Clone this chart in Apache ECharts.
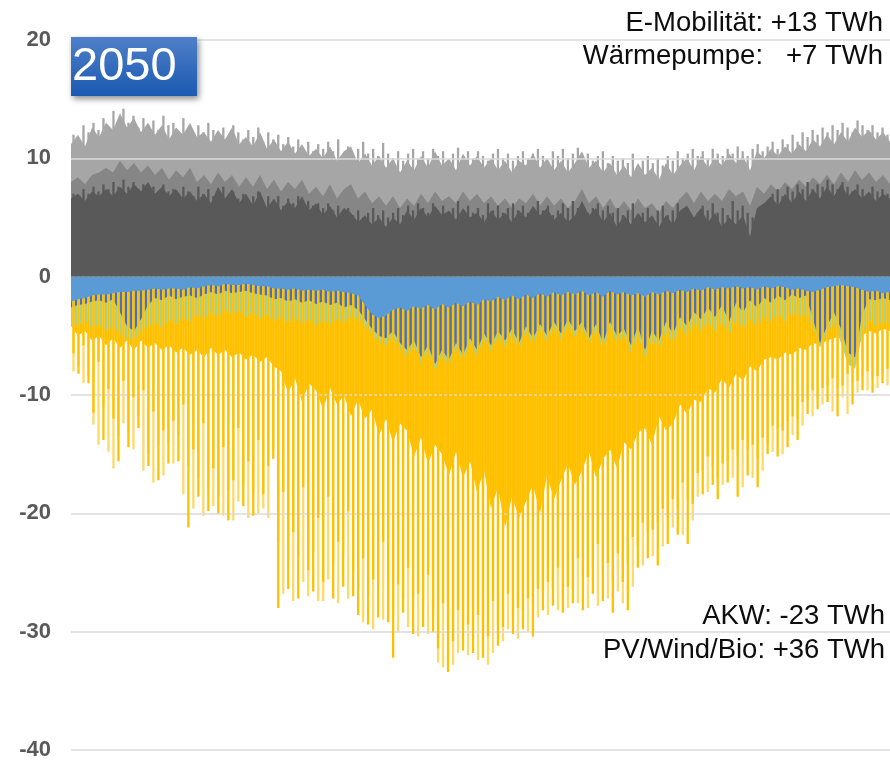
<!DOCTYPE html>
<html><head><meta charset="utf-8">
<script src="https://cdn.jsdelivr.net/npm/echarts@6/dist/echarts.min.js"></script>
<style>html,body{margin:0;padding:0;background:#fff}#c{width:890px;height:761px}</style>
</head><body><div id="c"></div>
<script>
// y-axis ticks
const yTicks = [-40, -30, -20, -10, 0, 10, 20];

// positive side: consumption layers (tops), sampled across the year
const grayLightTop = [11.2,12.0,11.0,12.6,11.8, 13.0,12.4,13.8,12.6,13.4, 12.2,13.0,12.0,12.8,11.6, 12.6,12.0,13.0,11.8,12.2, 11.4,12.4,11.6,12.6,11.2, 11.8,11.0,12.2,10.8,11.6, 10.6,11.4,10.4,11.2,10.2, 10.8,10.0,11.0,9.8,10.6, 11.0,9.6,10.4,9.4,10.2, 9.2,10.0,8.8,9.8,9.0, 10.2,9.2,10.6,9.4,10.0, 9.0,10.4,9.4,10.2,9.2, 10.0,9.0,9.8,8.8,9.8, 9.4,10.4,9.2,10.0,9.0, 9.8,8.8,9.6,10.6,9.2, 9.8,8.8,9.6,8.6,9.4, 8.4,9.6,8.6,9.2,8.2, 9.6,8.6,9.4,10.0,9.0, 10.2,9.2,10.0,9.4,10.4, 9.6,10.2,9.0,10.6,10.0, 10.8,10.2,11.0,10.4,11.2, 10.6,11.6,11.0,12.0,11.2, 12.2,11.4,12.6,11.8,12.4, 11.6,12.2,11.4];
const grayMidTop = [8.0,8.4,7.8,8.6,8.8, 9.2,8.8,9.8,9.0,9.6, 8.8,9.4,8.6,9.2,8.2, 9.0,8.4,9.2,8.0,8.6, 7.8,8.8,8.0,8.6,7.6, 8.4,7.6,8.6,7.4,8.2, 7.2,8.0,7.4,8.2,7.0, 7.6,6.8,7.8,6.6,7.4, 7.8,6.6,7.2,6.2,6.8, 6.0,6.8,5.8,6.6,6.0, 7.0,6.2,7.2,6.4,6.8, 6.2,7.2,6.4,7.0,6.2, 6.8,6.0,6.6,5.8,6.6, 6.2,7.0,6.0,6.8,6.0, 6.6,5.8,6.4,7.4,6.2, 6.8,5.8,6.6,5.6,6.4, 5.6,6.6,5.8,6.2,5.4, 6.4,5.8,6.6,7.2,6.2, 7.2,6.4,7.0,6.4,7.4, 6.8,7.2,6.0,7.6,7.0, 7.8,7.2,8.0,7.4,8.2, 7.6,8.4,7.8,8.6,7.8, 8.8,8.0,9.0,8.2,8.8, 8.0,8.6,7.8];
const grayDarkTop = [6.6,7.0,6.4,7.2,6.8, 7.4,6.8,7.6,7.0,7.8, 7.2,8.0,7.0,7.6,6.8, 7.4,6.6,7.2,6.4,7.0, 6.2,7.6,6.6,7.4,6.2, 7.0,6.0,7.2,5.8,6.6, 5.6,6.4,5.8,6.8,5.6, 6.2,5.2,6.0,5.0,5.8, 5.4,4.6,5.2,4.4,5.0, 4.2,5.0,4.4,5.6,4.8, 5.8,5.0,6.0,5.2,5.6, 4.8,5.8,5.0,5.4,4.6, 5.6,4.8,5.4,4.6,5.6, 5.0,6.0,5.2,5.8,4.8, 5.4,4.6,5.2,6.4,5.2, 5.8,4.6,5.4,4.2,5.2, 4.4,5.4,4.6,5.2,4.2, 5.2,4.4,5.6,6.0,5.0, 5.8,4.6,5.4,4.2,5.0, 4.4,5.2,3.4,5.8,6.2, 6.8,6.0,7.0,6.2,7.2, 6.4,7.4,6.6,7.6,6.8, 7.8,6.8,7.4,6.6,7.2, 6.4,7.0,6.6];
// daily load peaks (light gray needles) and base-load needles (dark gray)
const grayPeak = [12.0,11.4,12.8,12.2,13.0,12.4,13.4,12.6,14.0,13.2, 14.2,13.0,13.6,12.6,13.4,12.8,13.2,12.4,13.6,12.8, 13.0,12.2,13.4,12.6,12.0,12.8,12.2,13.0,12.4,12.0, 12.6,11.8,12.8,12.2,11.6,12.4,11.8,12.6,11.4,12.2, 11.6,12.0,11.2,11.8,11.0,11.6,10.8,11.4,10.6,11.2, 10.8,11.4,10.6,11.6,10.4,11.0,10.2,10.8,11.4,10.4, 10.8,10.2,11.3,10.4,10.0,10.6,9.8,10.4,10.8,10.0, 10.6,10.0,10.8,10.2,10.6,9.8,10.4,10.9,10.2,10.6, 10.0,10.6,10.2,9.8,10.4,10.8,10.0,10.4,9.8,10.2, 10.6,10.0,10.4,10.8,10.2,9.8,10.6,10.2,10.8,10.0, 10.4,10.9,10.0,10.4,9.8,10.2,10.6,9.6,10.2,9.8, 10.0,9.6,10.4,9.4,9.8,10.2,9.6,10.0,9.4,10.2, 9.8,10.6,10.0,10.4,10.8,10.2,10.6,10.0,10.8,10.4, 10.2,10.8,10.4,11.0,10.6,10.2,10.8,11.2,10.6,11.0, 11.4,10.8,11.6,11.2,12.0,11.4,12.2,11.8,12.4,12.0, 12.6,12.2,12.8,12.4,13.0,12.6,12.2,13.2,12.8,12.4, 12.8,12.2,12.6,12.0];
const darkPeak = [7.0,6.6,7.4,7.0,7.6,7.2,7.8,7.4,8.0,7.6, 8.2,7.6,8.0,7.4,7.8,7.2,7.6,7.0,7.8,7.2, 7.4,7.0,7.6,7.2,6.8,7.6,7.0,7.4,6.8,7.2, 7.6,6.8,7.2,6.6,7.0,6.4,6.8,7.2,6.2,6.8, 6.4,6.8,6.0,6.6,6.2,6.8,5.8,6.4,6.0,6.2, 5.8,6.2,5.6,6.0,5.4,5.8,5.2,5.6,5.0,5.4, 5.8,5.2,5.6,5.0,5.4,5.8,5.2,6.0,5.6,6.2, 5.8,5.4,6.2,5.6,6.0,5.4,5.8,6.4,5.6,6.0, 5.4,5.8,5.2,6.2,5.6,6.0,5.4,5.8,6.2,5.6, 6.0,5.4,5.8,6.4,5.6,6.0,5.2,5.6,6.2,5.8, 6.4,5.8,6.0,5.4,5.8,6.2,5.6,6.0,5.4,5.8, 5.2,5.6,6.2,5.0,5.4,5.8,5.0,5.6,6.0,5.2, 5.6,6.2,5.4,5.8,5.0,5.4,6.0,5.6,6.2,5.4, 5.8,5.2,6.4,5.6,6.0,5.4,5.0,4.8,5.6,6.4, 7.0,7.4,6.8,7.6,7.2,7.8,7.4,8.0,7.4,7.8, 7.6,8.2,7.8,7.4,8.0,7.6,7.2,7.8,7.4,7.0, 7.6,7.2,7.4,7.0];

// negative side: generation layers (cumulative bottoms)
const blueLightBottom = [-2.1,-1.9,-1.8,-1.6,-1.5, -1.5,-1.4,-1.3,-1.3,-1.2, -1.2,-1.1,-1.0,-1.1,-1.0, -1.0,-1.1,-0.9,-1.0,-0.8, -0.7,-0.8,-0.6,-0.7,-0.7, -0.6,-0.7,-0.8,-0.8,-1.0, -1.0,-1.1,-1.0,-1.2,-1.1, -1.2,-1.1,-1.3,-1.2,-1.3, -1.4,-1.6,-2.4,-3.2,-3.5, -3.3,-2.8,-2.6,-2.9,-2.5, -2.7,-2.4,-2.8,-2.3,-2.6, -2.2,-2.5,-2.1,-2.4,-1.9, -2.1,-1.7,-2.0,-1.6,-1.9, -1.5,-1.8,-1.4,-1.7,-1.3, -1.6,-1.3,-1.5,-1.2,-1.6, -1.3,-1.7,-1.2,-1.5,-1.3, -1.6,-1.4,-1.7,-1.3,-1.5, -1.2,-1.4,-1.1,-1.3,-1.0, -1.2,-0.9,-1.1,-0.9,-1.0, -0.8,-1.0,-0.9,-1.1,-0.8, -1.0,-0.8,-0.9,-1.1,-1.0, -1.2,-1.3,-1.1,-0.9,-0.8, -0.7,-0.8,-0.9,-1.1,-1.3, -1.2,-1.4,-1.3];
const blueDarkBottom = [-2.6,-2.4,-2.3,-2.1,-2.0, -2.2,-1.9,-3.0,-4.2,-4.6, -3.6,-2.4,-1.8,-2.0,-1.6, -1.9,-1.7,-1.6,-1.8,-1.5, -1.3,-1.5,-1.2,-1.4,-1.3, -1.2,-1.4,-1.5,-1.6,-1.9, -1.8,-2.1,-1.9,-2.2,-2.0, -2.3,-2.1,-2.4,-2.2,-2.6, -2.4,-2.8,-3.6,-4.4,-5.0, -5.2,-4.6,-5.6,-6.2,-5.4, -6.8,-5.8,-7.4,-6.2,-7.0, -5.6,-6.6,-5.2,-6.2,-4.8, -5.8,-4.6,-5.4,-4.4,-5.6, -4.2,-5.2,-4.0,-5.0,-3.8, -4.8,-3.6,-4.6,-3.8,-5.2, -4.0,-5.6,-3.8,-5.0,-4.4, -5.8,-4.2,-6.2,-4.6,-5.4, -3.8,-4.8,-3.4,-4.2,-3.0, -3.6,-2.6,-3.4,-2.4,-3.8, -2.2,-3.0,-2.0,-2.6,-1.8, -2.2,-1.6,-2.0,-1.5,-1.8, -1.6,-3.6,-5.6,-4.2,-3.0, -4.4,-6.4,-6.8,-3.2,-1.9, -2.0,-1.8,-2.0];
const greenBottom = [-3.8,-4.2,-3.6,-4.4,-4.0, -4.6,-4.2,-4.8,-5.2,-5.4, -4.6,-4.2,-3.8,-4.4,-3.6, -4.0,-3.4,-3.8,-3.2,-3.6, -3.0,-3.4,-2.8,-3.2,-2.9, -3.4,-3.0,-3.6,-3.2,-3.8, -3.4,-3.9,-3.5,-4.0,-3.6, -4.1,-3.7,-4.0,-3.6,-3.9, -3.4,-3.6,-4.2,-4.9,-5.5, -5.8,-5.1,-6.1,-6.7,-5.9, -7.3,-6.3,-7.9,-6.7,-7.5, -6.1,-7.1,-5.7,-6.7,-5.3, -6.3,-5.1,-5.9,-4.9,-6.1, -4.7,-5.7,-4.5,-5.5,-4.3, -5.3,-4.1,-5.1,-4.3,-5.7, -4.6,-6.1,-4.4,-5.6,-5.0, -6.4,-4.9,-6.8,-5.3,-6.1, -4.6,-5.6,-4.3,-5.0,-4.0, -4.6,-3.8,-4.6,-3.8,-5.0, -3.6,-4.4,-3.6,-4.2,-3.4, -3.8,-3.2,-3.8,-3.0,-3.4, -3.2,-4.2,-6.0,-4.8,-4.0, -5.6,-7.4,-7.8,-5.0,-3.6, -4.2,-3.8,-4.0];
const pvCore = [-4.2,-5.0,-4.6,-5.4,-5.0, -5.8,-5.2,-6.0,-5.4,-6.2, -5.4,-6.0,-5.6,-6.2,-5.8, -6.4,-6.0,-6.6,-6.2,-6.8, -6.0,-6.6,-6.2,-6.8,-6.4, -7.0,-6.6,-7.2,-6.8,-7.6, -8.0,-9.8,-8.6,-10.6,-9.0, -9.6,-11.2,-9.4,-10.8,-10.0, -11.8,-10.4,-12.0,-11.2,-13.4, -12.0,-14.0,-12.4,-13.0,-15.2, -13.6,-15.8,-14.2,-15.0,-16.8, -14.8,-17.0,-15.6,-18.2,-16.4, -19.6,-17.8,-21.2,-18.6,-20.4, -19.0,-17.6,-20.0,-16.8,-18.8, -17.2,-15.8,-17.6,-16.4,-14.8, -17.0,-15.4,-14.6,-16.2,-14.0, -14.6,-13.2,-12.8,-14.2,-11.8, -13.0,-12.4,-10.8,-11.6,-10.4, -10.6,-9.4,-9.8,-8.6,-9.4, -8.2,-8.8,-7.6,-8.0,-7.0, -6.8,-7.0,-6.4,-6.6,-6.0, -6.2,-5.6,-5.8,-5.4,-5.2, -5.0,-5.4,-4.8,-5.0,-4.6, -4.8,-4.4,-4.6];

// daily PV peaks (deep = gold, pale = lighter tone)
const pvGold = [-6.5,-8.2,-5.8,-9.0,-11.5,-7.2,-13.8,-9.5,-12.0,-15.6, -8.8,-14.4,-10.2,-12.8,-9.6,-16.0,-11.4,-17.2,-13.0,-15.8, -12.2,-15.6,-10.8,-21.2,-14.6,-18.6,-12.4,-19.8,-16.2,-20.0, -14.4,-20.6,-17.2,-12.8,-19.4,-15.6,-20.2,-13.8,-18.4,-16.0, -15.4,-28.0,-18.2,-26.4,-21.6,-27.2,-17.8,-24.8,-26.6,-20.4, -25.8,-18.6,-27.2,-22.4,-26.2,-19.8,-27.0,-28.6,-23.8,-29.4, -25.6,-28.8,-22.4,-29.2,-32.2,-26.0,-28.4,-24.6,-30.2,-26.8, -29.6,-25.2,-30.0,-31.4,-27.6,-33.4,-30.8,-28.2,-31.6,-29.4, -31.8,-28.6,-32.2,-30.4,-27.4,-31.2,-29.6,-26.8,-30.2,-28.0, -29.8,-27.2,-30.4,-26.4,-28.2,-25.8,-27.8,-24.6,-28.4,-26.2, -27.6,-23.8,-28.2,-25.4,-26.8,-22.6,-27.4,-24.2,-28.4,-23.4, -25.8,-28.2,-22.0,-24.6,-20.8,-23.8,-21.4,-24.4,-19.6,-22.6, -18.8,-21.8,-17.4,-22.6,-19.2,-16.6,-18.4,-15.2,-17.6,-18.8, -15.8,-17.4,-14.6,-18.6,-13.8,-16.8,-14.2,-17.8,-13.6,-15.0, -12.6,-15.2,-13.0,-14.4,-11.8,-13.8,-10.6,-11.6,-9.6,-11.2, -9.4,-10.6,-8.6,-11.8,-9.2,-8.2,-10.8,-8.8,-9.6,-8.0, -9.8,-8.4,-9.0,-7.8];
const pvPale = [-8.0,-7.5,-9.0,-8.4,-12.5,-14.2,-11.0,-14.8,-16.2,-13.5, -12.4,-13.2,-14.6,-11.8,-16.4,-15.0,-17.4,-14.2,-16.8,-14.0, -15.8,-13.4,-18.4,-16.0,-19.6,-17.0,-20.2,-17.8,-19.4,-18.6, -20.2,-18.0,-20.6,-19.0,-17.6,-20.4,-18.2,-20.0,-19.6,-20.4, -14.6,-22.4,-26.8,-24.0,-27.4,-23.6,-25.8,-27.0,-23.2,-27.4, -27.4,-25.6,-24.2,-27.6,-23.4,-27.2,-25.0,-26.4,-29.2,-27.0, -29.8,-26.2,-29.0,-27.4,-28.6,-30.0,-27.2,-29.6,-27.0,-30.4, -27.8,-30.2,-28.6,-32.6,-33.0,-29.8,-32.8,-31.8,-29.6,-32.0, -30.2,-32.4,-30.0,-32.8,-31.8,-29.4,-30.8,-29.8,-28.6,-30.6, -28.2,-30.0,-27.6,-28.8,-26.6,-28.6,-26.4,-28.2,-27.0,-28.0, -26.4,-27.6,-25.2,-28.0,-24.6,-27.8,-25.0,-27.2,-25.8,-26.6, -27.6,-24.2,-26.2,-22.8,-24.4,-21.6,-23.6,-20.8,-22.8,-20.4, -21.2,-19.6,-21.8,-18.8,-20.6,-18.6,-16.4,-18.2,-16.0,-17.0, -17.6,-15.6,-17.0,-15.2,-17.8,-14.6,-17.0,-15.4,-16.4,-14.2, -14.8,-12.8,-15.0,-12.2,-13.4,-12.0,-12.6,-10.4,-11.8,-10.2, -10.8,-9.2,-11.4,-9.4,-10.2,-11.6,-9.0,-9.8,-8.4,-9.6, -8.6,-9.4,-8.2,-9.2];

const slots = grayDarkTop.map((_, i) => 'S' + (i + 1));
const days = pvGold.map((_, j) => 'D' + (j + 1));

const FONT = '"Liberation Sans", Arial, Helvetica, sans-serif';

function area(name, data, color, z) {
  return {
    name, type: 'line', xAxisIndex: 0, data, z, silent: true,
    symbol: 'none', showSymbol: false, smooth: false,
    lineStyle: { width: 0, color }, areaStyle: { color, opacity: 1 },
    animation: false
  };
}
function needles(name, data, color, z) {
  return {
    name, type: 'bar', xAxisIndex: 1, data, z, silent: true,
    barWidth: '46%', barGap: '-100%', itemStyle: { color },
    animation: false
  };
}

const chart = echarts.init(document.getElementById('c'), null, { renderer: 'canvas' });
chart.setOption({
  animation: false,
  backgroundColor: '#ffffff',
  grid: { left: 71, right: 0, top: 40, bottom: 10, containLabel: false },
  xAxis: [
    { type: 'category', data: slots, boundaryGap: false, show: false },
    { type: 'category', data: days, boundaryGap: true, show: false }
  ],
  yAxis: {
    type: 'value', min: yTicks[0], max: yTicks[yTicks.length - 1], interval: 10,
    axisLine: { show: false }, axisTick: { show: false }, splitLine: { show: false },
    axisLabel: { color: '#595959', fontSize: 22, fontWeight: 'bold', fontFamily: FONT, margin: 20 }
  },
  series: [
    needles('Spitzenlast', grayPeak, '#a6a6a6', 1),
    area('Last gesamt', grayLightTop, '#a6a6a6', 2),
    area('Wärmepumpe', grayMidTop, '#868686', 3),
    needles('Grundlast Spitzen', darkPeak, '#595959', 4),
    area('Grundlast', grayDarkTop, '#595959', 5),
    area('PV dicht', pvCore, '#ffc000', 1),
    area('Bio', greenBottom, '#a9d18e', 2),
    area('Wind', blueDarkBottom, '#4472c4', 3),
    needles('PV hell', pvPale, '#ffd966', 4),
    needles('PV', pvGold, '#ffc000', 5),
    area('Wasser', blueLightBottom, '#5b9bd5', 6),
    {
      name: 'grid', type: 'line', xAxisIndex: 0, data: [], z: 10, silent: true,
      markLine: {
        silent: true, symbol: 'none', animation: false,
        label: { show: false },
        lineStyle: { color: '#d9d9d9', width: 2, type: 'solid', opacity: 0.75 },
        data: yTicks.map(v => ({ yAxis: v }))
      }
    }
  ],
  graphic: [
    {
      type: 'rect', x: 71, y: 37, z: 20,
      shape: { width: 126, height: 59 },
      style: {
        fill: new echarts.graphic.LinearGradient(0, 0, 0, 1, [
          { offset: 0, color: '#4f7fc8' }, { offset: 1, color: '#1b5ab3' }
        ]),
        shadowBlur: 6, shadowOffsetX: 2, shadowOffsetY: 3, shadowColor: 'rgba(0,0,0,0.45)'
      }
    },
    { type: 'text', x: 72, y: 67, z: 21,
      style: { text: '2050', fill: '#ffffff', font: '47px ' + FONT, textAlign: 'left', textVerticalAlign: 'middle', align: 'left', verticalAlign: 'middle' } },
    { type: 'text', x: 883, y: 23, z: 21,
      style: { text: 'E-Mobilität: +13 TWh', fill: '#0d0d0d', font: '27.5px ' + FONT, textAlign: 'right', textVerticalAlign: 'middle', align: 'right', verticalAlign: 'middle' } },
    { type: 'text', x: 883, y: 56, z: 21,
      style: { text: 'Wärmepumpe:   +7 TWh', fill: '#0d0d0d', font: '27.5px ' + FONT, textAlign: 'right', textVerticalAlign: 'middle', align: 'right', verticalAlign: 'middle' } },
    { type: 'text', x: 885, y: 616, z: 21,
      style: { text: 'AKW: -23 TWh', fill: '#0d0d0d', font: '27.5px ' + FONT, textAlign: 'right', textVerticalAlign: 'middle', align: 'right', verticalAlign: 'middle' } },
    { type: 'text', x: 885, y: 650, z: 21,
      style: { text: 'PV/Wind/Bio: +36 TWh', fill: '#0d0d0d', font: '27.5px ' + FONT, textAlign: 'right', textVerticalAlign: 'middle', align: 'right', verticalAlign: 'middle' } }
  ]
});
</script>
</body></html>
